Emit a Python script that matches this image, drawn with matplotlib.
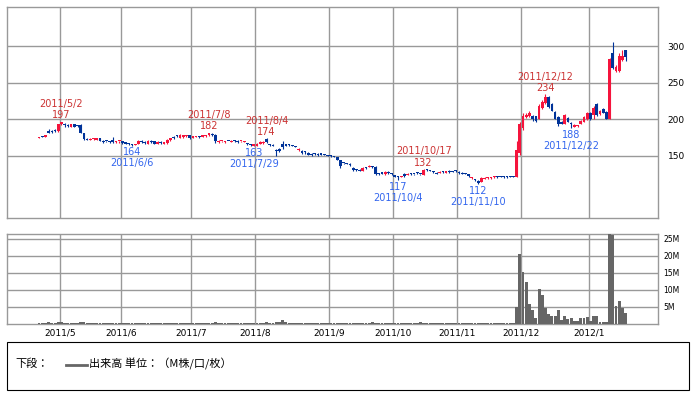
import matplotlib.pyplot as plt
from matplotlib.patches import Rectangle
from matplotlib.lines import Line2D
import numpy as np
import pandas as pd

plt.rcParams['font.family'] = ['DejaVu Sans', 'Noto Sans CJK JP']

# daily candles: (open, high, low, close, volume in M shares)
apr = [(175, 176, 174, 175, 0.4), (176.5, 177, 175.5, 176, 0.4), (176, 179, 176, 178, 0.4),
       (184, 187, 181, 182, 0.5), (184, 186, 181, 183, 0.4), (185, 187, 183, 184, 0.4),
       (184, 194, 183, 193, 0.5)]
may = [(193, 197, 192, 196, 0.5), (194, 195, 190, 192, 0.4), (192, 193, 190, 191, 0.4),
       (190, 194, 190, 193, 0.4), (193, 194, 189, 190, 0.4), (191.5, 192, 190, 191, 0.3),
       (192, 193, 181, 182, 0.5), (181, 182, 172, 173, 0.5), (173, 174, 172, 172, 0.3),
       (172, 174, 172, 173.5, 0.3), (173, 175, 172, 174, 0.3), (172, 175, 172, 174, 0.3),
       (174, 175, 170, 171, 0.4), (171, 172, 168, 169, 0.4), (170.5, 171, 169, 170, 0.3),
       (170, 171, 168, 169, 0.3), (172, 176, 168, 169, 0.4), (169, 171, 168, 170, 0.3),
       (170, 171, 168, 170.5, 0.3)]
jun = [(170, 171, 167, 168, 0.3), (168, 169, 166, 167, 0.3), (167, 168, 165, 166, 0.3),
       (166, 167, 164, 165, 0.4), (165, 167, 165, 166.5, 0.3), (166, 172, 166, 171, 0.4),
       (171, 172, 168, 169, 0.3), (169, 170, 167, 168, 0.3), (166, 172, 166, 171, 0.4),
       (171, 172, 168, 169, 0.3), (170, 171, 166, 167, 0.3), (167, 170, 167, 169, 0.3),
       (169, 170, 167, 168, 0.3), (167, 169, 166, 168, 0.3), (168, 173, 167, 172, 0.4),
       (172, 175, 171, 174, 0.4), (176, 177, 173, 174, 0.4), (178, 179, 176, 177, 0.4),
       (175, 180, 175, 179, 0.4), (176, 179, 175, 178, 0.3), (177, 178, 176, 178, 0.3),
       (178, 178, 173, 174, 0.4)]
jul = [(175, 177, 175, 177, 0.3), (176, 177, 176, 177, 0.3), (177, 177.5, 174, 176.5, 0.3),
       (176, 178, 176, 178, 0.3), (177, 178, 176, 178, 0.3), (178, 182, 177, 181, 0.4),
       (180, 181, 177, 178, 0.3), (179, 180, 168, 170, 0.5), (169, 172, 168, 171, 0.4),
       (170, 171, 169, 170.5, 0.3), (169, 170, 168, 169.5, 0.3), (171, 171, 170, 170, 0.3),
       (169, 172, 169, 171, 0.3), (172, 172, 169, 170, 0.3), (171, 172, 168, 169, 0.3),
       (170, 171, 169, 171, 0.3), (169, 171, 169, 171, 0.3), (168, 168, 165, 166, 0.4),
       (166, 167, 164, 165, 0.4), (164, 167, 163, 166, 0.4)]
aug = [(164, 168, 163, 167, 0.4), (167, 170, 166, 169, 0.4), (168, 170, 167, 169.5, 0.4),
       (173, 174, 168, 169, 0.5), (166, 166, 164, 165, 0.4), (165, 166, 163, 164, 0.4),
       (158, 160, 150, 157, 0.6), (160, 161, 156, 157, 0.5), (166, 171, 160, 162, 1.2),
       (166, 167, 163, 164, 0.5), (165, 166, 164, 164.5, 0.4), (164, 165, 163, 163.5, 0.4),
       (163, 164, 162, 162.5, 0.3), (158, 161, 157, 160, 0.3), (157, 158, 153, 154, 0.4),
       (156, 157, 153, 155, 0.3), (154, 155, 151, 152, 0.3), (153, 154, 150, 151, 0.3),
       (153.5, 154, 152, 153, 0.3), (153, 154, 150, 151, 0.3), (152.5, 153, 151, 152, 0.3),
       (152, 153, 151, 151, 0.3), (151, 152, 150, 150, 0.3)]
sep = [(151, 152, 149, 150, 0.3), (150, 150.5, 148, 149, 0.3), (148, 148, 144, 145, 0.4),
       (144, 145, 134, 136, 0.4), (140.5, 141, 139, 140, 0.3), (140, 141, 139, 139, 0.3),
       (139, 140, 137, 138, 0.3), (134, 135, 130, 131, 0.4), (131.5, 132, 130, 131, 0.3),
       (131, 132, 129, 130, 0.3), (130, 135, 130, 134, 0.4), (134, 134.5, 132, 133, 0.3),
       (135, 138, 135, 136.5, 0.4), (136, 136.5, 134, 134.5, 0.6), (135, 136, 124, 126, 0.4),
       (126.5, 127, 124, 125, 0.3), (128, 128, 125, 125.5, 0.3), (125, 129, 124, 128, 0.3),
       (128, 129, 126, 127, 0.3), (127, 127, 124, 125, 0.3)]
oct_ = [(124, 124.5, 121, 122, 0.3), (122, 123, 117, 121, 0.4), (121, 123, 121, 122.5, 0.3),
        (126, 127, 122, 123, 0.3), (124, 127, 124, 126, 0.3), (126, 127, 124, 125, 0.3),
        (125.5, 126, 124, 125, 0.3), (127, 128, 126, 126.5, 0.3), (125.5, 126, 124, 125, 0.6),
        (124, 132, 124, 131, 0.4), (131, 132, 130, 130.5, 0.3), (130, 131, 129, 129.5, 0.3),
        (129, 130, 127, 127.5, 0.3), (127, 128, 125, 126, 0.3), (127, 129, 127, 128.5, 0.3),
        (129, 129.5, 127, 127.5, 0.3), (127, 130, 127, 129, 0.3), (130, 130.5, 127, 128, 0.3),
        (129, 130, 128, 128.5, 0.3), (130, 131, 128, 129, 0.3)]
nov = [(128, 129, 126, 127, 0.3), (127, 128, 125, 126, 0.3), (126, 127, 125, 125.5, 0.3),
       (125, 126, 122, 123, 0.3), (120, 122, 118, 121, 0.3), (118, 119, 116, 117, 0.3),
       (116, 117, 112, 113, 0.4), (115, 121, 115, 120, 0.3), (119, 121, 118, 120.5, 0.3),
       (120, 121, 119, 121, 0.3), (120, 122, 119, 121, 0.3), (121, 123, 120, 122, 0.3),
       (122, 123, 120, 121, 0.3), (122, 123, 121, 121.5, 0.3), (122, 123, 120, 121, 0.3),
       (122, 123, 120, 121, 0.3), (122, 122.5, 121, 121.5, 0.3), (122, 123, 121, 121.5, 0.3),
       (121, 170, 121, 158, 4.9), (154, 196, 152, 194, 20.6)]
dec = [(188, 208, 186, 205, 15.2), (203, 209, 202, 206, 12.3), (204, 211, 203, 208, 5.9),
       (205, 206, 198, 200, 4.1), (204, 205, 196, 198, 1.7), (201, 221, 201, 218, 10.3),
       (216, 226, 214, 224, 8.5), (222, 234, 221, 230, 4.8), (230, 232, 215, 217, 2.8),
       (221, 222, 211, 212, 2.4), (210, 211, 200, 201, 2.3), (203, 205, 191, 194, 4.0),
       (197, 198, 193, 194, 1.2), (194, 207, 193, 206, 2.4), (202, 203, 196, 197, 1.5),
       (195, 197, 188, 193, 1.9), (190, 193, 190, 192, 0.9), (191, 192.5, 190, 192, 0.9),
       (194, 199, 193, 198, 1.7), (197, 204, 196, 203, 1.7), (200, 210, 199, 208, 2.2)]
jan = [(208, 210, 199, 200, 0.9), (206, 218, 200, 216, 2.4), (221, 222, 205, 206, 2.4),
       (207, 213, 206, 212, 0.6), (214, 215, 208, 209, 0.6), (210, 211, 200, 201, 0.6),
       (201, 283, 200, 282, 26.4), (290, 306, 268, 270, 26.1), (266, 274, 264, 272, 5.4),
       (266, 291, 264, 286, 6.8), (281, 294, 280, 286, 4.8), (294, 295, 280, 285, 3.3)]

holidays = ['2011-04-29', '2011-05-03', '2011-05-04', '2011-05-05', '2011-07-18',
            '2011-09-19', '2011-09-23', '2011-10-10', '2011-11-03', '2011-11-23',
            '2011-12-23', '2012-01-02', '2012-01-03', '2012-01-09']

# labelled highs and lows
marks = [('2011-05-02', 'high', 197), ('2011-06-06', 'low', 164),
         ('2011-07-08', 'high', 182), ('2011-07-29', 'low', 163),
         ('2011-08-04', 'high', 174), ('2011-10-04', 'low', 117),
         ('2011-10-17', 'high', 132), ('2011-11-10', 'low', 112),
         ('2011-12-12', 'high', 234), ('2011-12-22', 'low', 188)]

UP = '#f5143c'
DOWN = '#003399'
HI_TXT = '#cc3333'
LO_TXT = '#3366ee'
GRID = '#999999'

rows = np.array(apr + may + jun + jul + aug + sep + oct_ + nov + dec + jan, dtype=float)
o, h, l, c, v = rows.T

days = pd.bdate_range('2011-04-20', '2012-01-20')
days = days[~days.isin(pd.to_datetime(holidays))][:len(rows)]
x = np.arange(len(days))
idx = {d: i for i, d in enumerate(days)}

# first trading day of each month
month_first = [i for i in range(1, len(days)) if days[i].month != days[i - 1].month]
grid_x = [i - 0.5 for i in month_first]
month_lbl = ['%d/%d' % (days[i].year, days[i].month) for i in month_first]

fig = plt.figure(figsize=(6.96, 3.95), dpi=100)
ax = fig.add_axes([7 / 696, 1 - 218 / 395, 651 / 696, 211 / 395])
axv = fig.add_axes([7 / 696, 1 - 324 / 395, 651 / 696, 90 / 395])

# candles
col = np.where(c >= o, UP, DOWN)
ax.vlines(x, l, h, colors=col, lw=0.8, zorder=3)
body = np.maximum(np.abs(c - o), 1.4)
ax.bar(x, body, bottom=np.minimum(o, c), width=0.85, color=col, lw=0, zorder=3)

for d, kind, val in marks:
    d = pd.Timestamp(d)
    i = idx[d]
    lab = '%d/%d/%d' % (d.year, d.month, d.day)
    if kind == 'high':
        tc, s1, s2 = HI_TXT, 4.5, 12.8
    else:
        tc, s1, s2 = LO_TXT, -4.8, -12.8
    ax.annotate(str(val), (i, val), xytext=(0, s1), textcoords='offset points',
                ha='center', va='center', color=tc, fontsize=7, zorder=4)
    ax.annotate(lab, (i, val), xytext=(0, s2), textcoords='offset points',
                ha='center', va='center', color=tc, fontsize=7, zorder=4)

ax.set_xlim(-10, 193.1)
ax.set_ylim(65.4, 353.2)
ax.set_xticks(grid_x)
ax.set_yticks([150, 200, 250, 300])
ax.yaxis.tick_right()
ax.tick_params(length=0, labelbottom=False, labelsize=6.5, pad=7)
ax.grid(True, color=GRID, lw=1, zorder=0)

# volume
axv.bar(x, v, width=0.9, color='#666666', lw=0, zorder=3)
axv.set_xlim(-10, 193.1)
axv.set_ylim(0, 26.4)
axv.set_xticks(grid_x)
axv.set_xticklabels(month_lbl, fontsize=6.5)
axv.set_yticks([5, 10, 15, 20, 25])
axv.set_yticklabels(['5M', '10M', '15M', '20M', '25M'], fontsize=5.5)
axv.yaxis.tick_right()
axv.tick_params(length=0)
axv.tick_params(axis='y', pad=3.6)
axv.tick_params(axis='x', pad=3.5)
axv.grid(True, color=GRID, lw=1, zorder=0)

for a in (ax, axv):
    for sp in a.spines.values():
        sp.set_color(GRID)
        sp.set_linewidth(1)

# legend box at the bottom
fig.add_artist(Rectangle((7 / 696, 1 - 390 / 395), 682 / 696, 48 / 395,
                         transform=fig.transFigure, fill=False, ec='black', lw=0.8))
fig.text(15 / 696, 1 - 364 / 395, '下段：', family=['Noto Sans CJK JP'],
         fontsize=8, va='center')
fig.add_artist(Line2D([66 / 696, 87 / 696], [1 - 365 / 395, 1 - 365 / 395],
                      transform=fig.transFigure, color='#666666', lw=2))
fig.text(89 / 696, 1 - 364 / 395, '出来高 単位：（M株/口/枚）',
         family=['Noto Sans CJK JP'], fontsize=8, va='center')

fig.savefig('out.png', dpi=100)
